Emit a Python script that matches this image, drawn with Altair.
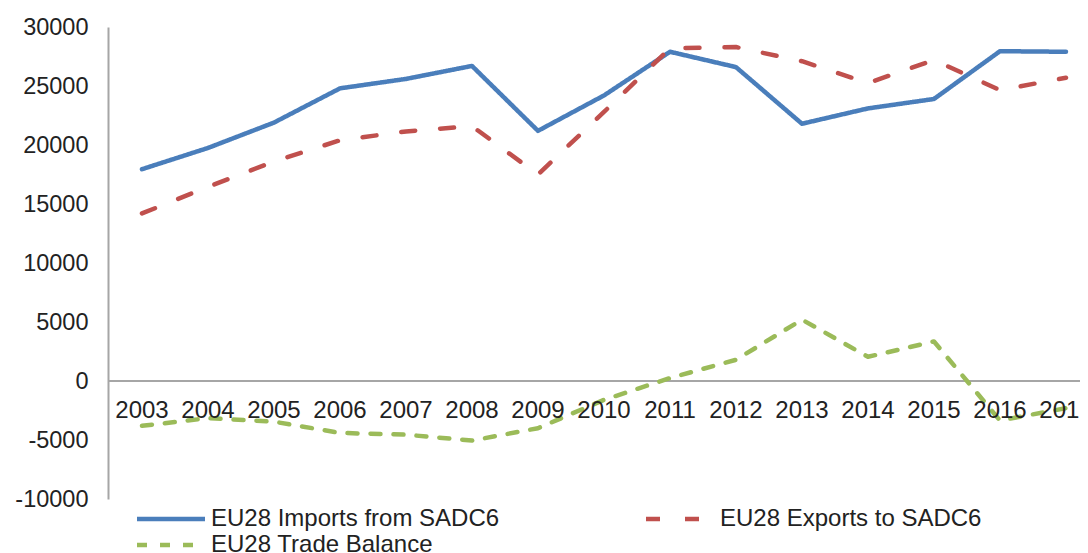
import altair as alt
import pandas as pd

years = [str(y) for y in range(2003, 2018)]
imports = [17950, 19750, 21900, 24800, 25600, 26700, 21200, 24200, 27900, 26600, 21800, 23100, 23900, 27950, 27900]
exports = [14200, 16450, 18600, 20400, 21150, 21600, 17500, 22800, 28200, 28300, 27100, 25250, 27200, 24650, 25700]
balance = [-3800, -3150, -3450, -4400, -4550, -5050, -4000, -1600, 250, 1800, 5200, 2050, 3350, -3350, -2300]

series_names = ["EU28 Imports from SADC6", "EU28 Exports to SADC6", "EU28 Trade Balance"]
series_colors = ["#4A7EBB", "#C0504D", "#9BBB59"]
series_dash = [[1, 0], [14, 25], [10, 13]]
y_ticks = [-10000, -5000, 0, 5000, 10000, 15000, 20000, 25000, 30000]

rows = []
for i, y in enumerate(years):
    for k, (name, vals) in enumerate(zip(series_names, [imports, exports, balance])):
        rows.append({"year": y, "series": name, "value": vals[i], "order": k})
df = pd.DataFrame(rows)
yr = pd.DataFrame({"year": years})

FONT = "Liberation Sans"
TXT = "#222222"
GRAY = "#A6A6A6"

xenc = alt.X("year:O", scale=alt.Scale(type="point", padding=0.3636, align=0.708), axis=None)
yscale = alt.Scale(domain=[-10000, 30000], nice=False)

zero = alt.Chart(yr).mark_rule(color=GRAY, strokeWidth=2).encode(y=alt.datum(0, scale=yscale))

lines = alt.Chart(df).mark_line(strokeWidth=4.5, strokeCap="round", strokeJoin="round").encode(
    x=xenc,
    y=alt.Y("value:Q", scale=yscale,
            axis=alt.Axis(values=y_ticks, ticks=False, grid=False, title=None,
                          domainColor=GRAY, domainWidth=2,
                          labelFontSize=23.5, labelFont=FONT, labelColor=TXT,
                          labelPadding=20, labelExpr="'' + datum.value")),
    color=alt.Color("series:N", scale=alt.Scale(domain=series_names, range=series_colors),
                    legend=alt.Legend(title=None, orient="none", legendX=51, legendY=480,
                                      columns=2, direction="horizontal",
                                      symbolType="M-4,0L4,0", symbolSize=289,
                                      symbolStrokeWidth=4.5, labelFontSize=24, labelFont=FONT,
                                      labelColor=TXT, labelLimit=400, labelOffset=28,
                                      columnPadding=137, rowPadding=2)),
    strokeDash=alt.StrokeDash("series:N", scale=alt.Scale(domain=series_names, range=series_dash),
                              legend=None),
    order="order:Q",
)

labels = alt.Chart(yr).mark_text(fontSize=24, font=FONT, color=TXT, dy=29.5, baseline="middle").encode(
    x=xenc, y=alt.datum(0, scale=yscale), text="year:N"
)

chart = alt.layer(zero, lines, labels).properties(
    width=972, height=472,
    padding={"left": 100, "top": 19, "right": 0, "bottom": 80},
    autosize="none",
).configure_view(stroke=None)

chart.save("out.html", embed_options={"renderer": "svg", "actions": False})
